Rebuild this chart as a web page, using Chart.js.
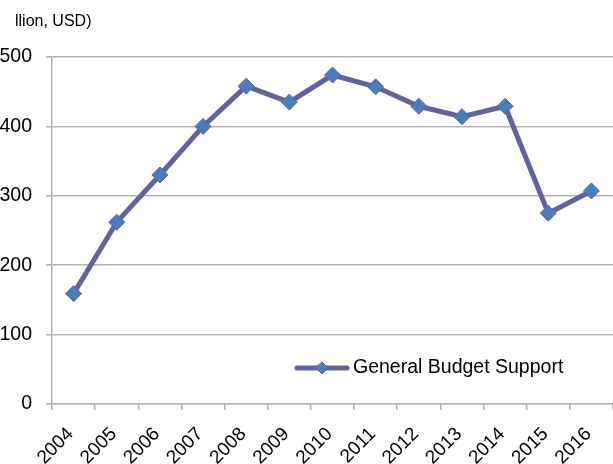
<!DOCTYPE html>
<html>
<head>
<meta charset="utf-8">
<script src="https://cdn.jsdelivr.net/npm/chart.js@4.4.0/dist/chart.umd.min.js"></script>
<style>
  html, body { margin: 0; padding: 0; background: #fff; }
  #wrap { width: 613px; height: 464px; }
</style>
</head>
<body>
<div id="wrap"><canvas id="budgetChart" width="613" height="464"></canvas></div>
<script>
// données
const years = ['2004', '2005', '2006', '2007', '2008', '2009', '2010', '2011', '2012', '2013', '2014', '2015', '2016'];
const budgetSupport = [159, 262, 330, 400, 458, 435, 474, 457, 429, 414, 429, 275, 307];
const yTicks = [0, 100, 200, 300, 400, 500];
const seriesLabel = 'General Budget Support';
const unitTitle = 'llion, USD)';

const lineColor = '#62629c';
const markerFill = '#4a7ebb';
const gridColor = '#b3b3b3';
const fontFamily = '"Liberation Sans", Arial, sans-serif';

// légende et titre dessinés à la main
const extrasPlugin = {
    id: 'extras',
    afterDraw(chart) {
        const ctx = chart.ctx;
        ctx.save();
        ctx.fillStyle = '#000';
        ctx.font = '16px ' + fontFamily;
        ctx.textBaseline = 'middle';
        ctx.fillText(unitTitle, 15, 22);

        // légende dans la zone du graphique
        const ly = 368;
        ctx.strokeStyle = lineColor;
        ctx.lineWidth = 5;
        ctx.lineCap = 'round';
        ctx.beginPath();
        ctx.moveTo(297, ly);
        ctx.lineTo(347, ly);
        ctx.stroke();
        ctx.fillStyle = markerFill;
        ctx.strokeStyle = lineColor;
        ctx.lineWidth = 1;
        ctx.beginPath();
        ctx.moveTo(322, ly - 6);
        ctx.lineTo(328, ly);
        ctx.lineTo(322, ly + 6);
        ctx.lineTo(316, ly);
        ctx.closePath();
        ctx.fill();
        ctx.stroke();
        ctx.fillStyle = '#000';
        ctx.font = '19.5px ' + fontFamily;
        ctx.fillText(seriesLabel, 353, ly);
        ctx.restore();
    }
};

new Chart(document.getElementById('budgetChart'), {
    type: 'line',
    data: {
        labels: years,
        datasets: [{
            label: seriesLabel,
            data: budgetSupport,
            borderColor: lineColor,
            borderWidth: 5,
            pointStyle: 'rectRot',
            pointRadius: 8,
            pointHoverRadius: 8,
            pointBackgroundColor: markerFill,
            pointBorderColor: lineColor,
            pointBorderWidth: 1,
            tension: 0,
            clip: false
        }]
    },
    options: {
        responsive: false,
        animation: false,
        layout: { autoPadding: false, padding: { top: 57, right: 0, bottom: 0, left: 0 } },
        plugins: {
            legend: { display: false },
            tooltip: { enabled: false }
        },
        scales: {
            x: {
                offset: true,
                grid: {
                    offset: true,
                    drawOnChartArea: false,
                    drawTicks: true,
                    tickLength: 6,
                    color: gridColor,
                    lineWidth: 1.5
                },
                border: { color: gridColor, width: 1.5 },
                ticks: {
                    color: '#000',
                    font: { family: fontFamily, size: 19 },
                    minRotation: 45,
                    maxRotation: 45,
                    padding: 13,
                    labelOffset: -3,
                    autoSkip: false
                },
                afterFit(scale) {
                    scale.height = 60;
                    scale.paddingLeft = 0;
                    scale.paddingRight = 0;
                }
            },
            y: {
                min: 0,
                max: 500,
                afterBuildTicks(scale) { scale.ticks = yTicks.map(v => ({ value: v })); },
                grid: {
                    color: gridColor,
                    lineWidth: 1.5,
                    drawTicks: true,
                    tickLength: 6
                },
                border: { color: gridColor, width: 1.5 },
                ticks: {
                    color: '#000',
                    font: { family: fontFamily, size: 19.5 },
                    padding: 14
                },
                afterFit(scale) { scale.width = 52; }
            }
        }
    },
    plugins: [extrasPlugin]
});
</script>
</body>
</html>
